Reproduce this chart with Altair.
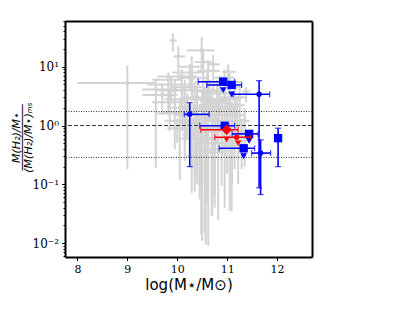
import altair as alt
import pandas as pd

# ---------------- data ----------------
# gray comparison sample: x, y and asymmetric error bounds
gx   = [9.00, 9.57, 9.91, 10.02, 10.49, 10.52, 10.72, 10.29, 11.02, 10.09, 9.82, 10.15, 10.35, 10.40, 10.50,
        10.62, 10.70, 10.80, 10.90, 11.05, 10.82, 11.10, 11.20, 11.38, 10.25, 10.05, 9.85, 10.60, 10.45, 10.95,
        11.10, 10.55, 10.75, 10.30, 10.00, 10.20, 9.95, 10.60, 10.30, 11.15, 10.85, 10.70, 10.40, 11.00, 10.95,
        10.35, 10.45, 10.57, 10.69, 10.75, 10.89, 11.09, 11.15, 11.29, 11.35, 10.29, 10.15, 9.95, 10.10, 10.65,
        10.95, 11.25, 10.55, 10.82, 10.40, 11.00, 10.70, 11.22, 10.48, 9.70, 9.88, 10.25, 11.05, 10.62]
gy   = [5.3, 4.1, 28.0, 15.0, 19.0, 12.0, 11.0, 10.0, 8.2, 6.8, 6.0, 4.5, 4.0, 3.0, 2.2,
        1.8, 2.6, 3.5, 2.0, 3.0, 1.2, 1.5, 2.2, 3.8, 1.5, 1.7, 2.5, 0.9, 0.6, 0.5,
        0.7, 1.3, 0.8, 0.7, 0.9, 2.0, 4.0, 5.5, 6.5, 4.5, 5.0, 0.35, 0.3, 1.0, 6.5,
        1.1, 0.8, 0.5, 0.6, 1.5, 0.9, 0.45, 1.0, 0.8, 1.2, 0.6, 1.2, 1.6, 2.8, 3.8,
        2.8, 3.0, 2.8, 2.4, 1.8, 1.8, 0.4, 0.55, 0.4, 3.3, 5.0, 8.0, 5.5, 8.5]
gxlo = [8.00, 9.30, 9.85, 9.92, 10.19, 10.35, 10.60, 10.00, 10.90, 9.60, 9.50, 9.90, 9.70, 10.10, 10.20,
        10.30, 10.45, 10.55, 10.60, 10.85, 10.50, 10.90, 11.00, 11.30, 9.95, 9.70, 9.50, 10.30, 10.20, 10.70,
        10.90, 10.25, 10.50, 10.10, 9.80, 9.80, 9.60, 10.35, 10.00, 10.95, 10.60, 10.50, 10.20, 10.80, 10.75,
        10.05, 10.15, 10.35, 10.45, 10.50, 10.65, 10.90, 10.95, 11.10, 11.20, 10.00, 9.75, 9.60, 9.75, 10.40,
        10.70, 11.05, 10.25, 10.55, 10.10, 10.75, 10.45, 11.00, 10.25, 9.30, 9.40, 9.90, 10.85, 10.40]
gxhi = [9.55, 10.00, 9.99, 10.16, 10.75, 10.70, 10.85, 10.50, 11.17, 10.40, 10.10, 10.50, 10.80, 10.70, 10.80,
        10.90, 11.00, 11.10, 11.20, 11.30, 11.10, 11.35, 11.35, 11.45, 10.55, 10.40, 10.20, 10.90, 10.70, 11.20,
        11.30, 10.85, 11.00, 10.50, 10.20, 10.60, 10.30, 10.85, 10.60, 11.30, 11.10, 10.95, 10.60, 11.20, 11.15,
        10.60, 10.75, 10.80, 10.90, 11.00, 11.10, 11.30, 11.35, 11.40, 11.45, 10.55, 10.45, 10.30, 10.40, 10.90,
        11.20, 11.40, 10.85, 11.10, 10.70, 11.25, 10.95, 11.40, 10.70, 10.00, 10.30, 10.55, 11.30, 10.85]
gylo = [0.18, 0.19, 18.0, 7.0, 8.0, 3.0, 4.0, 3.0, 4.0, 2.0, 1.5, 0.5, 0.076, 0.3, 0.011,
        0.009, 0.07, 0.5, 0.3, 0.035, 0.025, 0.2, 0.6, 2.5, 0.3, 0.12, 0.8, 0.05, 0.09, 0.04,
        0.1, 0.015, 0.04, 0.2, 0.5, 0.6, 1.5, 2.0, 3.0, 1.0, 1.5, 0.03, 0.1, 0.15, 3.0,
        0.14, 0.055, 0.0095, 0.029, 0.063, 0.095, 0.035, 0.18, 0.18, 0.2, 0.072, 0.25, 0.4, 0.8, 1.2,
        0.8, 1.0, 0.5, 0.4, 0.2, 0.4, 0.05, 0.1, 0.014, 1.5, 2.5, 4.0, 2.5, 4.0]
gyhi = [10.5, 6.3, 37.0, 22.0, 32.0, 20.0, 16.0, 15.0, 11.0, 9.0, 8.0, 6.0, 5.5, 5.0, 4.0,
        3.5, 4.2, 6.0, 3.0, 5.0, 2.0, 2.5, 3.0, 4.5, 2.5, 3.0, 4.0, 1.6, 1.0, 0.9,
        1.2, 2.5, 1.5, 1.1, 1.3, 3.5, 6.0, 8.0, 9.0, 6.0, 7.0, 0.6, 0.6, 1.6, 9.0,
        2.0, 1.5, 1.0, 1.1, 2.5, 1.6, 0.8, 1.8, 1.3, 2.0, 1.0, 2.2, 2.8, 4.5, 6.0,
        4.5, 4.5, 4.5, 3.8, 3.2, 2.8, 0.7, 0.9, 0.7, 5.0, 7.0, 11.0, 8.0, 13.0]

# blue sample with error bars
bx    = [10.92, 11.09, 11.64, 10.25, 10.95, 11.44, 12.02, 11.33, 11.67]
by    = [5.57, 4.90, 3.40, 1.55, 0.99, 0.72, 0.61, 0.41, 0.34]
bxlo  = [10.42, 10.59, 11.12, 10.14, 10.45, 11.10, 11.98, 10.84, 11.49]
bxhi  = [11.15, 11.29, 11.85, 10.64, 11.15, 11.62, 12.07, 11.55, 11.87]
bylo  = [5.57, 4.90, 0.087, 0.20, 0.99, 0.72, 0.20, 0.41, 0.067]
byhi  = [5.57, 4.90, 5.80, 2.45, 0.99, 0.72, 0.90, 0.41, 0.57]
bshape = ["square", "square", "circle", "circle", "square", "square", "square", "square", "circle"]
# blue upper limits
bvx = [10.92, 11.09, 11.44, 11.33]
bvy = [4.00, 3.40, 0.55, 0.30]

# red sample
rx    = [10.99, 11.19]
ry    = [0.85, 0.63]
rxlo  = [10.47, 10.75]
rxhi  = [11.22, 11.47]
rshape = ["diamond", "circle"]
rvx = [10.99, 11.22]
rvy = [0.58, 0.50]

# reference levels
lvl_main = [1.0]
lvl_band = [1.73, 0.287]

x_ticks = [8, 9, 10, 11, 12]
y_major = [0.01, 0.1, 1, 10]

# ---------------- tables ----------------
gray = pd.DataFrame(dict(x=gx, y=gy, xlo=gxlo, xhi=gxhi, ylo=gylo, yhi=gyhi))
blue = pd.DataFrame(dict(x=bx, y=by, xlo=bxlo, xhi=bxhi, ylo=bylo, yhi=byhi, shape=bshape))
red = pd.DataFrame(dict(x=rx, y=ry, xlo=rxlo, xhi=rxhi, shape=rshape))
blue_v = pd.DataFrame(dict(x=bvx, y=bvy))
red_v = pd.DataFrame(dict(x=rvx, y=rvy))

def xcaps(xs, ys, los, his):
    rows = []
    for x0, y0, a, b in zip(xs, ys, los, his):
        if a != b:
            rows += [dict(x=a, y=y0), dict(x=b, y=y0)]
    return pd.DataFrame(rows)

def ycaps(xs, los, his):
    rows = []
    for x0, a, b in zip(xs, los, his):
        if a != b:
            rows += [dict(x=x0, y=a), dict(x=x0, y=b)]
    return pd.DataFrame(rows)

bxc = xcaps(bx, by, bxlo, bxhi)
byc = ycaps(bx, bylo, byhi)
rxc = xcaps(rx, ry, rxlo, rxhi)

minor = []
for d in range(-3, 2):
    for k in range(2, 10):
        v = k * 10 ** d
        if 0.0058 <= v <= 60:
            minor.append(round(v, 6))
y_vals = sorted(set(y_major + minor))

X = alt.Scale(domain=[7.75, 12.7], nice=False, zero=False)
Y = alt.Scale(type="log", domain=[0.0058, 60], nice=False)

x_axis = alt.Axis(
    values=x_ticks, title="log(M⋆/M⊙)", titleFont="DejaVu Sans", titleFontSize=15,
    titleFontWeight="normal", titleColor="black", titlePadding=3,
    labelFont="DejaVu Serif", labelFontSize=11, labelColor="black", labelPadding=3,
    tickSize=3.5, tickColor="black", domain=True, domainColor="black", domainWidth=2,
    grid=False)

label_expr = ("datum.value == 10 ? '10¹' : datum.value == 1 ? '10⁰' : "
              "datum.value == 0.1 ? '10⁻¹' : datum.value == 0.01 ? '10⁻²' : ''")
major_test = "abs(log(datum.value)/LN10 - round(log(datum.value)/LN10)) < 0.000001"

y_axis = alt.Axis(
    values=y_vals, labelExpr=label_expr,
    title=["M(H₂)/M⋆", "──────────", "(M(H₂)/M⋆)ₘₛ"],
    titleFont="DejaVu Sans", titleFontSize=11, titleFontStyle="italic", titleFontWeight="normal",
    titleColor="black", titleLineHeight=6, titleAngle=270, titleAlign="center",
    titleBaseline="middle", titleX=-49, titleY=116,
    labelFont="DejaVu Serif", labelFontSize=12, labelColor="black", labelPadding=3,
    tickSize={"condition": {"test": major_test, "value": 3.5}, "value": 2},
    tickColor="black", domain=True, domainColor="black", domainWidth=2, grid=False)

# plain spines for the top and right sides
x_top = alt.Axis(orient="top", labels=False, ticks=False, title=None, grid=False,
                 domain=True, domainColor="black", domainWidth=2)
y_right = alt.Axis(orient="right", labels=False, ticks=False, title=None, grid=False,
                   domain=True, domainColor="black", domainWidth=2)

GRAY = "#d3d3d3"
BLUE = "#0000ff"
RED = "#ff0000"

def XQ(f):
    return alt.X(f, type="quantitative", scale=X)

def YQ(f):
    return alt.Y(f, type="quantitative", scale=Y)

anchor = pd.DataFrame(dict(x=[8.0], y=[1.0]))
axes_layer = alt.Chart(anchor).mark_point(opacity=0).encode(
    x=alt.X("x:Q", scale=X, axis=x_axis), y=alt.Y("y:Q", scale=Y, axis=y_axis))
spines_layer = alt.Chart(anchor).mark_point(opacity=0).encode(
    x=alt.X("x:Q", scale=X, axis=x_top), y=alt.Y("y:Q", scale=Y, axis=y_right))

base_g = alt.Chart(gray)
g_xe = base_g.mark_rule(color=GRAY, strokeWidth=2).encode(x=XQ("xlo"), x2="xhi:Q", y=YQ("y"))
g_ye = base_g.mark_rule(color=GRAY, strokeWidth=2).encode(x=XQ("x"), y=YQ("ylo"), y2="yhi:Q")
g_pt = base_g.mark_circle(color=GRAY, size=16, opacity=1).encode(x=XQ("x"), y=YQ("y"))

lines_main = alt.Chart(pd.DataFrame(dict(y=lvl_main))).mark_rule(
    color="#333333", strokeWidth=1, strokeDash=[4, 2]).encode(y=YQ("y"))
lines_band = alt.Chart(pd.DataFrame(dict(y=lvl_band))).mark_rule(
    color="#333333", strokeWidth=1, strokeDash=[1, 1.5]).encode(y=YQ("y"))

def err_layers(df, color, xc, yc=None):
    b = alt.Chart(df)
    layers = [
        b.mark_rule(color=color, strokeWidth=1.6).encode(x=XQ("xlo"), x2="xhi:Q", y=YQ("y")),
        alt.Chart(xc).mark_tick(color=color, orient="vertical", size=6, thickness=1.3).encode(
            x=XQ("x"), y=YQ("y")),
    ]
    if yc is not None:
        layers += [
            b.mark_rule(color=color, strokeWidth=1.6).encode(x=XQ("x"), y=YQ("ylo"), y2="yhi:Q"),
            alt.Chart(yc).mark_tick(color=color, orient="horizontal", size=6, thickness=1.3).encode(
                x=XQ("x"), y=YQ("y")),
        ]
    return layers

SIZES = {"square": 70, "circle": 30, "diamond": 110}

def point_layers(df, color):
    out = []
    for shp in df["shape"].unique():
        sub = df[df["shape"] == shp]
        out.append(alt.Chart(sub).mark_point(filled=True, color=color, opacity=1, shape=shp,
                                             size=SIZES[shp]).encode(x=XQ("x"), y=YQ("y")))
    return out

b_v = alt.Chart(blue_v).mark_point(filled=True, color=BLUE, shape="triangle-down", size=45, opacity=1).encode(
    x=XQ("x"), y=YQ("y"))
r_v = alt.Chart(red_v).mark_point(filled=True, color=RED, shape="triangle-down", size=40, opacity=1).encode(
    x=XQ("x"), y=YQ("y"))

data_layers = [g_xe, g_ye, g_pt, lines_main, lines_band]
data_layers += err_layers(blue, BLUE, bxc, byc)
data_layers += [b_v] + point_layers(blue, BLUE)
data_layers += err_layers(red, RED, rxc)
data_layers += [r_v] + point_layers(red, RED)

main = alt.layer(axes_layer, *data_layers)

chart = alt.layer(main, spines_layer).resolve_axis(x="independent", y="independent").properties(
    width=247, height=236,
    autosize=alt.AutoSizeParams(type="none"),
    padding={"left": 57, "top": 13, "right": 75, "bottom": 47},
).configure_view(stroke=None)

chart.save("out.html", embed_options={"renderer": "svg", "actions": False})
